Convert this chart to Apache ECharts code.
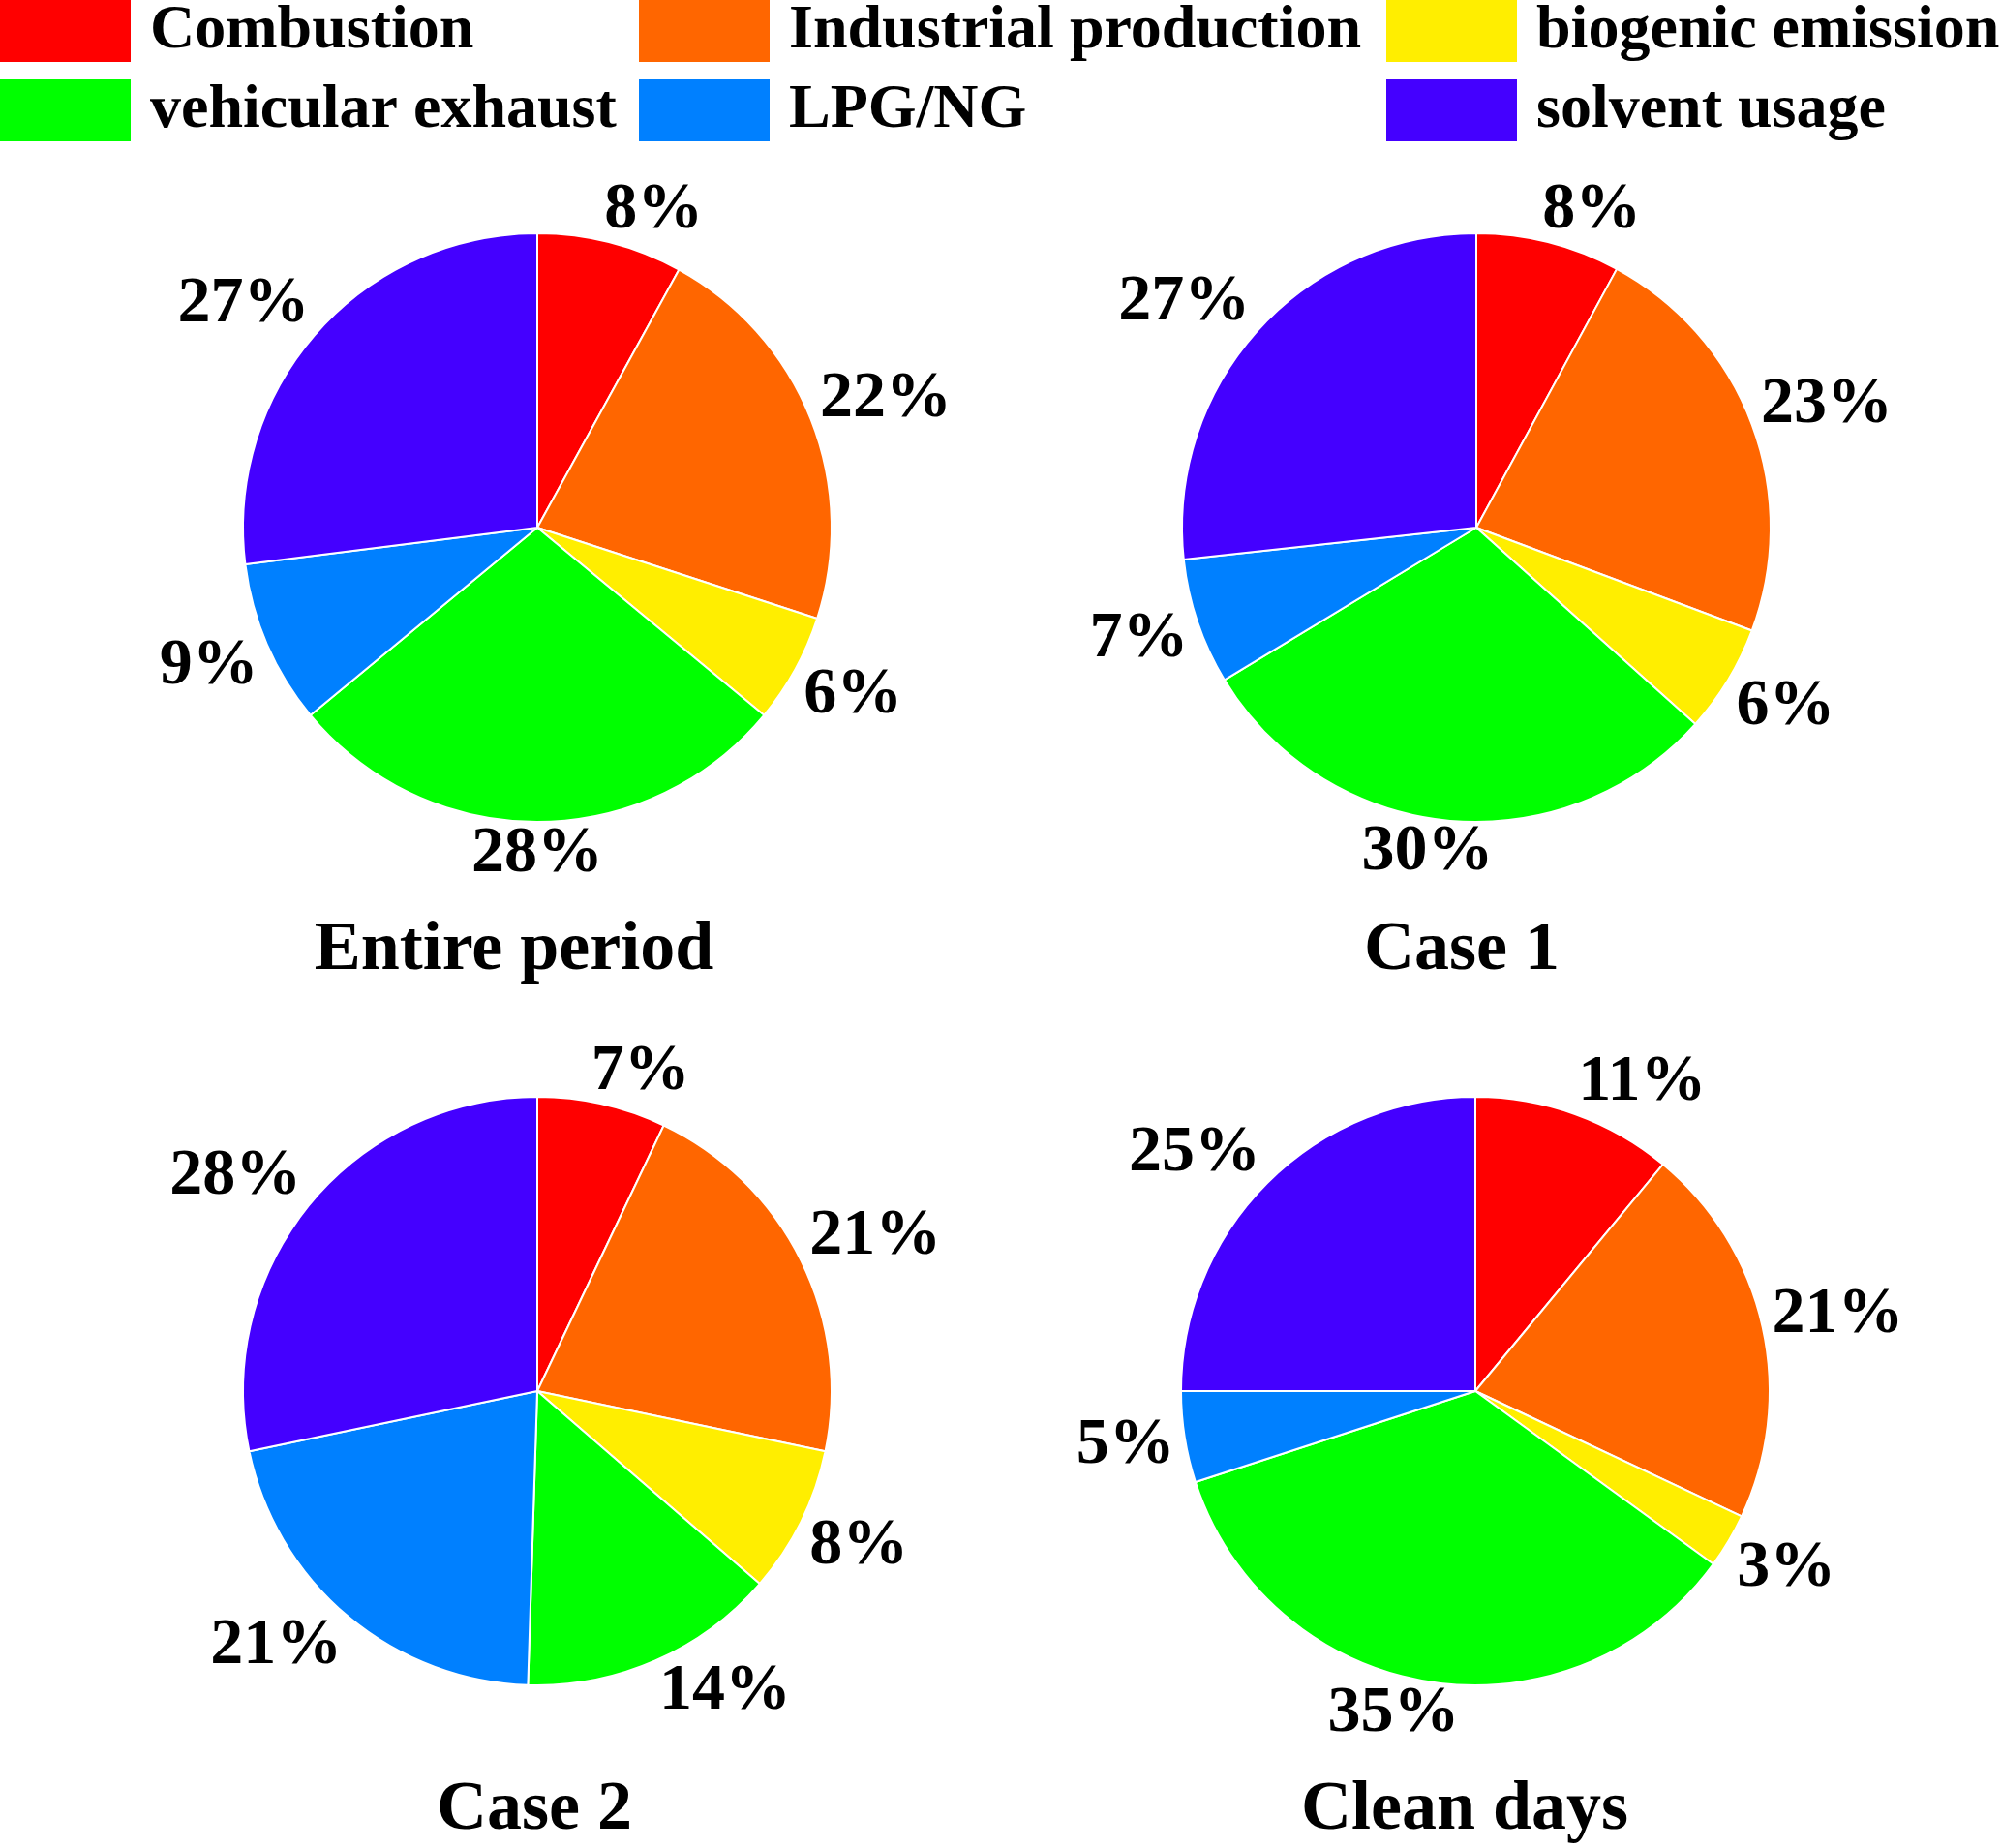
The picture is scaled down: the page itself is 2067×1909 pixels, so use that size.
<!DOCTYPE html>
<html><head><meta charset="utf-8">
<script src="https://cdn.jsdelivr.net/npm/echarts@6/dist/echarts.min.js"></script>
<style>html,body{margin:0;padding:0;background:#fff}#c{width:2067px;height:1909px}</style>
</head><body><div id="c"></div>
<script>
// ---- data ----
const sources = ['Combustion', 'Industrial production', 'biogenic emission', 'vehicular exhaust', 'LPG/NG', 'solvent usage'];
const colors = ['#FF0000', '#FF6600', '#FFEE00', '#00FF00', '#0080FF', '#4400FF'];
const periods = ['Entire period', 'Case 1', 'Case 2', 'Clean days'];
const entirePeriod = [8, 22, 6, 28, 9, 27];
const case1 = [8, 23, 6, 30, 7, 27];
const case2 = [7, 21, 8, 14, 21, 28];
const cleanDays = [11, 21, 3, 35, 5, 25];
const seriesValues = [entirePeriod, case1, case2, cleanDays];

// ---- layout ----
const pieCenters = [[555, 545], [1525, 545], [555, 1437], [1524, 1437]];
const pieRadius = 304;
const titlePos = [[531, 982], [1510, 982], [552, 1870], [1513, 1870]];
const legendCols = [[0, 3], [1, 4], [2, 5]];
const legendLeft = [0, 660, 1432];
const FONT = '"Liberation Serif", "Times New Roman", serif';

function clamp1(v) { return Math.max(-1, Math.min(1, v)); }

// place each outside label so its box sits just beyond the rim, at the slice's mid-angle
function makeLayout(si) {
  return function (p) {
    const lr = p.labelRect;
    const c = pieCenters[si];
    const ax = p.align === 'right' ? lr.x + lr.width : (p.align === 'center' ? lr.x + lr.width / 2 : lr.x);
    const ay = lr.y + lr.height / 2;
    let ux = ax - c[0], uy = ay - c[1];
    const len = Math.hypot(ux, uy) || 1;
    ux /= len; uy /= len;
    const hw = lr.width / 2, hh = lr.height * 0.34;
    const d = pieRadius + 10;
    const px = c[0] + ux * d, py = c[1] + uy * d;
    return {
      x: px + hw * clamp1(ux / 0.3),
      y: py + hh * clamp1(uy / 0.5),
      align: 'center', verticalAlign: 'middle'
    };
  };
}

const chart = echarts.init(document.getElementById('c'), null, { renderer: 'canvas' });
const option = {
  backgroundColor: '#fff',
  animation: false,
  color: colors,
  legend: legendCols.map((idx, k) => ({
    orient: 'vertical',
    left: legendLeft[k],
    top: 0,
    padding: 0,
    itemWidth: 135,
    itemHeight: 64,
    itemGap: 18,
    icon: 'rect',
    selectedMode: false,
    data: idx.map(i => sources[i]),
    itemStyle: { borderWidth: 0 },
    textStyle: { fontFamily: FONT, fontWeight: 'bold', fontSize: 64, color: '#000', padding: [4, 0, 0, 15] }
  })),
  graphic: periods.map((name, i) => ({
    type: 'text',
    x: titlePos[i][0],
    y: titlePos[i][1],
    style: { text: name, fontFamily: FONT, fontWeight: 'bold', fontSize: 72, fill: '#000', align: 'center', verticalAlign: 'middle' }
  })),
  series: seriesValues.map((vals, si) => ({
    type: 'pie',
    name: periods[si],
    center: pieCenters[si],
    radius: pieRadius,
    startAngle: 90,
    clockwise: true,
    avoidLabelOverlap: false,
    silent: true,
    emphasis: { disabled: true },
    itemStyle: { borderColor: '#fff', borderWidth: 2 },
    label: {
      show: true, position: 'outside', formatter: '{c}%', color: '#000',
      fontFamily: FONT, fontWeight: 'bold', fontSize: 68, distanceToLabelLine: 0
    },
    labelLine: { show: false, length: 10, length2: 0 },
    labelLayout: makeLayout(si),
    data: sources.map((n, i) => ({ name: n, value: vals[i] }))
  }))
};
chart.setOption(option);
</script>
</body></html>
